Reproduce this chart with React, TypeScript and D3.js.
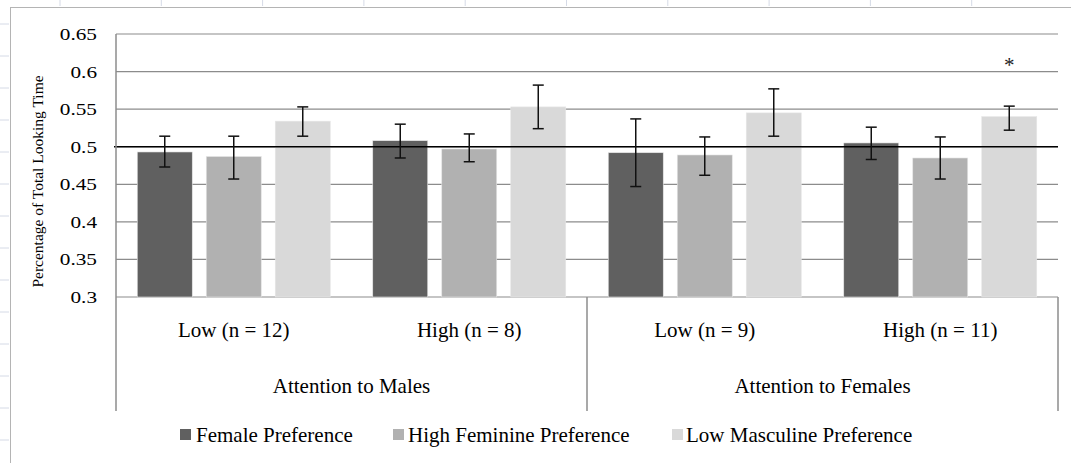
import React from "react";
import * as d3 from "d3";

const groups = ["Low (n = 12)", "High (n = 8)", "Low (n = 9)", "High (n = 11)"];
const outerGroups = ["Attention to Males", "Attention to Females"];
const series = ["Female Preference", "High Feminine Preference", "Low Masculine Preference"];
const seriesColors = ["#606060", "#b1b1b1", "#d9d9d9"];

// values per group, per series
const femalePref = [0.493, 0.508, 0.492, 0.505];
const highFemPref = [0.487, 0.497, 0.489, 0.485];
const lowMascPref = [0.534, 0.553, 0.545, 0.540];

const femaleErrLow = [0.473, 0.485, 0.447, 0.483];
const femaleErrHigh = [0.514, 0.530, 0.537, 0.526];
const highFemErrLow = [0.457, 0.480, 0.462, 0.457];
const highFemErrHigh = [0.514, 0.517, 0.513, 0.513];
const lowMascErrLow = [0.514, 0.524, 0.514, 0.522];
const lowMascErrHigh = [0.553, 0.582, 0.577, 0.554];

const yTicks = [0.3, 0.35, 0.4, 0.45, 0.5, 0.55, 0.6, 0.65];
const yTickLabels = ["0.3", "0.35", "0.4", "0.45", "0.5", "0.55", "0.6", "0.65"];
const referenceValue = 0.5;
const annotations = [{ group: 3, series: 2, text: "*" }];

const values = [femalePref, highFemPref, lowMascPref];
const errLow = [femaleErrLow, highFemErrLow, lowMascErrLow];
const errHigh = [femaleErrHigh, highFemErrHigh, lowMascErrHigh];

const W = 1071;
const H = 463;
const FONT = "'Liberation Serif', 'Times New Roman', serif";

export default function App() {
  const left = 116;
  const right = 1058;
  const top = 34;
  const bottom = 297;
  const catBottom = 411;

  const y = d3.scaleLinear().domain([0.3, 0.65]).range([bottom, top]);
  const x0 = d3.scaleBand<string>().domain(groups).range([left, right]).padding(0);
  const x1 = d3
    .scaleBand<string>()
    .domain(series)
    .range([0, x0.bandwidth()])
    .paddingInner(0.203)
    .paddingOuter(0.308);

  const outerScale = d3.scaleBand<string>().domain(outerGroups).range([left, right]);

  // spreadsheet background ticks
  const colTicks = d3.range(0, 11).map((i) => 60 + i * 101.3);
  const rowTicks = d3.range(0, 14).map((i) => 24 + i * 32);

  const legendItems = [
    { sx: 180, tx: 196 },
    { sx: 393, tx: 408 },
    { sx: 672, tx: 686 },
  ];

  return (
    <div style={{ position: "absolute", left: 0, top: 0 }}>
      <svg width={W} height={H} style={{ display: "block", background: "#fff" }}>
        {/* spreadsheet gridline stubs */}
        {colTicks.map((cx, i) => (
          <line key={"c" + i} x1={cx} x2={cx} y1={0} y2={6} stroke="#d5dae6" strokeWidth={1} />
        ))}
        {rowTicks.map((ry, i) => (
          <line key={"r" + i} x1={0} x2={9} y1={ry} y2={ry} stroke="#d5dae6" strokeWidth={1} />
        ))}
        {/* chart area border */}
        <line x1={10} x2={W} y1={7.5} y2={7.5} stroke="#b4b4b4" strokeWidth={1} />
        <line x1={10.5} x2={10.5} y1={7} y2={H} stroke="#b4b4b4" strokeWidth={1} />

        {/* gridlines */}
        {yTicks.map((t, i) => (
          <line
            key={"g" + i}
            x1={left}
            x2={right}
            y1={y(t)}
            y2={y(t)}
            stroke="#8c8c8c"
            strokeWidth={1.2}
          />
        ))}

        {/* bars */}
        {groups.map((g, gi) =>
          series.map((s, si) => {
            const bx = (x0(g) ?? 0) + (x1(s) ?? 0);
            const v = values[si][gi];
            return (
              <rect
                key={g + s}
                x={bx}
                y={y(v)}
                width={x1.bandwidth()}
                height={y(0.3) - y(v)}
                fill={seriesColors[si]}
                stroke="#e6e6e6"
                strokeWidth={0.6}
              />
            );
          })
        )}

        {/* reference line */}
        <line
          x1={left - 2}
          x2={right}
          y1={y(referenceValue)}
          y2={y(referenceValue)}
          stroke="#000"
          strokeWidth={1.4}
        />

        {/* error bars */}
        {groups.map((g, gi) =>
          series.map((s, si) => {
            const cx = (x0(g) ?? 0) + (x1(s) ?? 0) + x1.bandwidth() / 2;
            const lo = y(errLow[si][gi]);
            const hi = y(errHigh[si][gi]);
            return (
              <g key={"e" + g + s} stroke="#111" strokeWidth={1.5}>
                <line x1={cx} x2={cx} y1={hi} y2={lo} />
                <line x1={cx - 5.5} x2={cx + 5.5} y1={hi} y2={hi} />
                <line x1={cx - 5.5} x2={cx + 5.5} y1={lo} y2={lo} />
              </g>
            );
          })
        )}

        {/* annotations */}
        {annotations.map((a, i) => {
          const cx = (x0(groups[a.group]) ?? 0) + (x1(series[a.series]) ?? 0) + x1.bandwidth() / 2;
          return (
            <text
              key={"a" + i}
              x={cx}
              y={y(errHigh[a.series][a.group]) - 34}
              textAnchor="middle"
              fontFamily={FONT}
              fontSize={21}
              fill="#222"
            >
              {a.text}
            </text>
          );
        })}

        {/* axes lines */}
        <line x1={left} x2={left} y1={top} y2={catBottom} stroke="#8c8c8c" strokeWidth={1.5} />
        <line x1={right} x2={right} y1={bottom} y2={catBottom} stroke="#8c8c8c" strokeWidth={1.5} />
        <line
          x1={outerScale(outerGroups[1])}
          x2={outerScale(outerGroups[1])}
          y1={bottom}
          y2={catBottom}
          stroke="#8c8c8c"
          strokeWidth={1.5}
        />

        {/* y tick labels */}
        {yTicks.map((t, i) => (
          <text
            key={"yl" + i}
            transform={`translate(97, ${y(t)}) scale(1.25, 1)`}
            dy="0.35em"
            textAnchor="end"
            fontFamily={FONT}
            fontSize={17}
            fill="#000"
          >
            {yTickLabels[i]}
          </text>
        ))}

        {/* y title */}
        <text
          transform={`translate(38, 181.5) rotate(-90)`}
          textAnchor="middle"
          dy="0.35em"
          fontFamily={FONT}
          fontSize={15.5}
          fill="#000"
        >
          Percentage of Total Looking Time
        </text>

        {/* inner category labels */}
        {groups.map((g) => (
          <text
            key={"cl" + g}
            x={(x0(g) ?? 0) + x0.bandwidth() / 2}
            y={337}
            textAnchor="middle"
            fontFamily={FONT}
            fontSize={21}
            fill="#000"
          >
            {g}
          </text>
        ))}

        {/* outer category labels */}
        {outerGroups.map((o) => (
          <text
            key={"ol" + o}
            x={(outerScale(o) ?? 0) + outerScale.bandwidth() / 2}
            y={393}
            textAnchor="middle"
            fontFamily={FONT}
            fontSize={21}
            fill="#000"
          >
            {o}
          </text>
        ))}

        {/* legend */}
        {series.map((s, si) => (
          <g key={"lg" + s}>
            <rect x={legendItems[si].sx} y={429} width={11} height={11} fill={seriesColors[si]} />
            <text x={legendItems[si].tx} y={442} fontFamily={FONT} fontSize={21} fill="#000">
              {s}
            </text>
          </g>
        ))}
      </svg>
    </div>
  );
}
